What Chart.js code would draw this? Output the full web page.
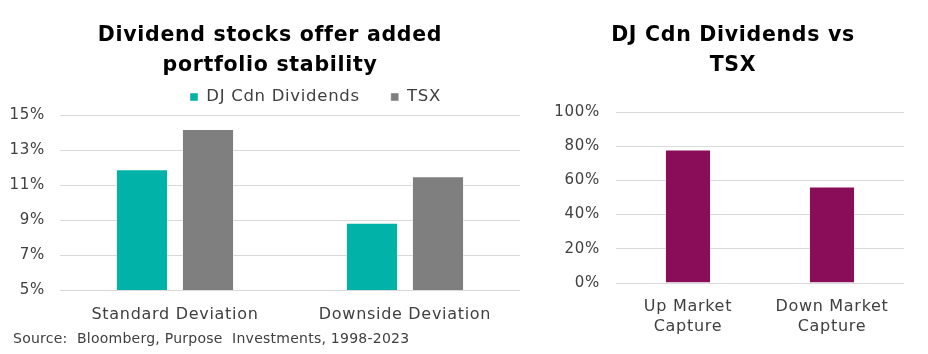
<!DOCTYPE html>
<html>
<head>
<meta charset="utf-8">
<script src="https://cdn.jsdelivr.net/npm/chart.js@4/dist/chart.umd.min.js"></script>
<style>
  body { margin: 0; background: #fff; }
  #wrap { position: relative; width: 928px; height: 354px; overflow: hidden; }
  #left { position: absolute; left: 0; top: 0; }
  #right { position: absolute; left: 540px; top: 0; }
  #source { position: absolute; left: 13px; top: 330px; font: 14px "DejaVu Sans"; letter-spacing: 0.25px; color: #404040; white-space: pre; }
</style>
</head>
<body>
<div id="wrap">
  <canvas id="left" width="540" height="354"></canvas>
  <canvas id="right" width="388" height="354"></canvas>
  <div id="source">Source:  Bloomberg, Purpose  Investments, 1998-2023</div>
</div>
<script>
// data
var riskLabels = ['Standard Deviation', 'Downside Deviation'];
var djDividends = [11.9, 8.85];
var tsx = [14.2, 11.5];
var riskTicks = [5, 7, 9, 11, 13, 15];

var captureLabels = [['Up Market', 'Capture'], ['Down Market', 'Capture']];
var captureValues = [78, 56.5];
var captureTicks = [0, 20, 40, 60, 80, 100];

Chart.defaults.font.family = 'DejaVu Sans';
Chart.defaults.color = '#404040';

var gridColor = '#d9d9d9';
var barEdge = 'rgba(255,255,255,0.45)';

// the original font is wider, open the letters up a bit
var spacing = {
  id: 'spacing',
  afterInit: function(chart) {
    chart.ctx.letterSpacing = '0.7px';
  }
};

// put title and legend where the reference has them
var placeBoxes = {
  id: 'placeBoxes',
  beforeInit: function(chart, args, opts) {
    var lg = chart.legend;
    if (!lg || opts.legendHeight == null) return;
    var fit = lg.fit;
    lg.fit = function() {
      fit.call(this);
      this.height = opts.legendHeight;
    };
  },
  afterLayout: function(chart, args, opts) {
    if (chart.titleBlock && opts.titleLeft != null) {
      chart.titleBlock.left = opts.titleLeft;
    }
    var lg = chart.legend;
    if (lg && opts.legendLeft != null) {
      var p = lg.options.labels.padding;
      var h = lg.options.labels.font.size;
      lg.left = opts.legendLeft - p;
      lg.top = opts.legendY - h / 2 - p;
    }
  }
};

function pct(v) { return v + '%'; }

new Chart(document.getElementById('left'), {
  type: 'bar',
  data: {
    labels: riskLabels,
    datasets: [
      { label: 'DJ Cdn Dividends', data: djDividends, backgroundColor: '#00b2a8', borderColor: barEdge, borderWidth: 1 },
      { label: 'TSX', data: tsx, backgroundColor: '#7f7f7f', borderColor: barEdge, borderWidth: 1 }
    ]
  },
  options: {
    responsive: false,
    animation: false,
    layout: { padding: { left: 0, right: 20, top: 0, bottom: 0 } },
    datasets: { bar: { categoryPercentage: 0.574, barPercentage: 0.79 } },
    scales: {
      x: {
        grid: { display: false, drawTicks: false },
        border: { display: false },
        ticks: { font: { size: 16 }, padding: 15, color: '#404040' },
        afterFit: function(s) { s.height = 64; }
      },
      y: {
        min: 5, max: 15,
        afterBuildTicks: function(s) { s.ticks = riskTicks.map(function(v) { return { value: v }; }); },
        grid: { color: gridColor, drawTicks: false },
        border: { display: false },
        ticks: { callback: pct, font: { size: 15 }, padding: 15, color: '#404040' },
        afterFit: function(s) { s.width = 60; }
      }
    },
    plugins: {
      title: {
        display: true,
        text: ['Dividend stocks offer added', 'portfolio stability'],
        color: '#000',
        font: { size: 20.5, weight: 'bold', lineHeight: 30 / 20.5 },
        padding: { top: 20.5, bottom: 0 }
      },
      legend: {
        display: true,
        align: 'start',
        labels: { boxWidth: 8, boxHeight: 8, padding: 31, font: { size: 16.5 }, color: '#404040' }
      },
      placeBoxes: { titleLeft: 20, legendHeight: 34.5, legendLeft: 190, legendY: 97 },
      tooltip: { enabled: false }
    }
  },
  plugins: [spacing, placeBoxes]
});

new Chart(document.getElementById('right'), {
  type: 'bar',
  data: {
    labels: captureLabels,
    datasets: [
      { label: 'Capture', data: captureValues, backgroundColor: '#8a0d5a', borderColor: barEdge, borderWidth: 1 }
    ]
  },
  options: {
    responsive: false,
    animation: false,
    layout: { padding: { left: 0, right: 24, top: 0, bottom: 0 } },
    datasets: { bar: { categoryPercentage: 0.4, barPercentage: 0.8 } },
    scales: {
      x: {
        grid: { display: false, drawTicks: false },
        border: { display: false },
        ticks: { font: { size: 16, lineHeight: 1.25 }, padding: 14, color: '#404040' },
        afterFit: function(s) { s.height = 71; }
      },
      y: {
        min: 0, max: 100,
        afterBuildTicks: function(s) { s.ticks = captureTicks.map(function(v) { return { value: v }; }); },
        grid: { color: gridColor, drawTicks: false },
        border: { display: false },
        ticks: { callback: pct, font: { size: 15 }, padding: 16, color: '#404040' },
        afterFit: function(s) { s.width = 76; }
      }
    },
    plugins: {
      title: {
        display: true,
        text: ['DJ Cdn Dividends vs', 'TSX'],
        color: '#000',
        font: { size: 20.5, weight: 'bold', lineHeight: 30 / 20.5 },
        padding: { top: 20.5, bottom: 31.5 }
      },
      legend: { display: false },
      placeBoxes: { titleLeft: 22 },
      tooltip: { enabled: false }
    }
  },
  plugins: [spacing, placeBoxes]
});
</script>
</body>
</html>
